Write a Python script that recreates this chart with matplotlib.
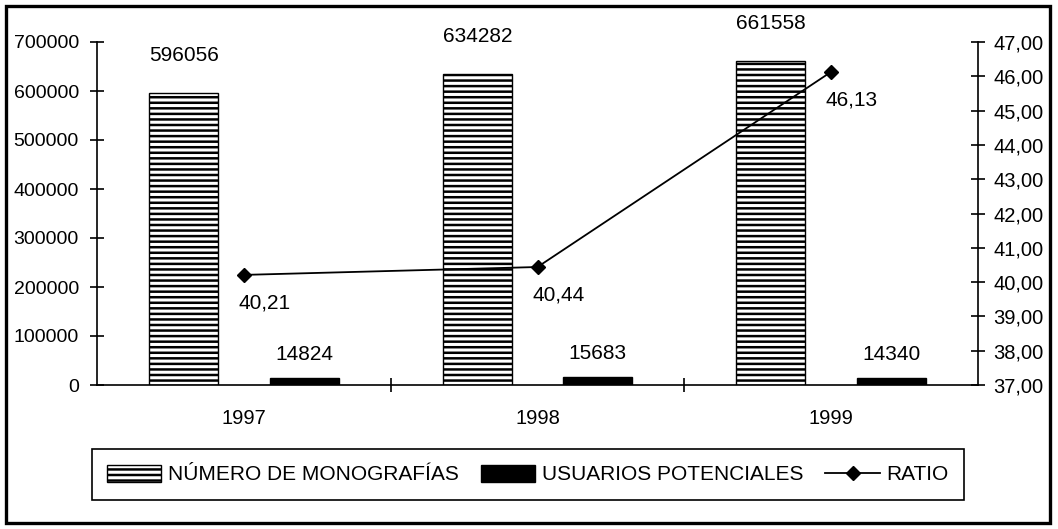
import matplotlib
matplotlib.use('Agg')
from matplotlib import pyplot as plt
from matplotlib.patches import Rectangle
from matplotlib.ticker import FuncFormatter, FixedLocator
import numpy as np

years = ['1997', '1998', '1999']
monografias = [596056, 634282, 661558]
usuarios = [14824, 15683, 14340]
ratio = [40.21, 40.44, 46.13]
ratio_labels = ['40,21', '40,44', '46,13']

plt.rcParams['font.family'] = ['Liberation Sans', 'DejaVu Sans']
plt.rcParams['hatch.linewidth'] = 1.8

fig = plt.figure(figsize=(10.58, 5.29), dpi=100)
ax = fig.add_axes([97 / 1058, 1 - 385 / 529, (978 - 97) / 1058, (385 - 42) / 529])
ax2 = ax.twinx()

x = np.arange(len(years))
w = 0.235
off = 0.205

b1 = ax.bar(x - off, monografias, w, color='white', edgecolor='black',
            hatch='---', linewidth=1, label='NÚMERO DE MONOGRAFÍAS')
b2 = ax.bar(x + off, usuarios, w, color='black', edgecolor='black',
            linewidth=1, label='USUARIOS POTENCIALES')
ln, = ax2.plot(x, ratio, color='black', lw=1.3, marker='D', markersize=7,
               label='RATIO')

ax.set_xlim(-0.5, 2.5)
ax.set_ylim(0, 700000)
ax2.set_ylim(37, 47)

# etiquetas de datos
for xi, v in zip(x, monografias):
    ax.annotate(str(v), (xi - off, v), xytext=(0, 27), textcoords='offset points',
                ha='center', va='center', fontsize=15)
for xi, v in zip(x, usuarios):
    ax.annotate(str(v), (xi + off, v), xytext=(0, 17), textcoords='offset points',
                ha='center', va='center', fontsize=15)
for xi, v, t in zip(x, ratio, ratio_labels):
    ax2.annotate(t, (xi, v), xytext=(15, -20), textcoords='offset points',
                 ha='center', va='center', fontsize=15)

# ejes
for a in (ax, ax2):
    a.spines['top'].set_visible(False)
ax.spines['right'].set_visible(False)
ax2.spines['left'].set_visible(False)
ax2.spines['bottom'].set_visible(False)
for s in ('left', 'bottom'):
    ax.spines[s].set_linewidth(1.2)
ax2.spines['right'].set_linewidth(1.2)

ax.set_yticks(np.arange(0, 700001, 100000))
ax.yaxis.set_major_formatter(FuncFormatter(lambda v, p: '%d' % v))
ax.tick_params(axis='y', direction='inout', length=10, width=1.2, labelsize=14, pad=8)

ax2.set_yticks(np.arange(37, 47.5, 1))
ax2.yaxis.set_major_formatter(FuncFormatter(lambda v, p: ('%.2f' % v).replace('.', ',')))
ax2.tick_params(axis='y', direction='inout', length=10, width=1.2, labelsize=14.5, pad=6)

ax.xaxis.set_major_locator(FixedLocator([0.5, 1.5]))
ax.xaxis.set_minor_locator(FixedLocator(x))
ax.set_xticklabels([], minor=False)
ax.set_xticklabels(years, minor=True)
ax.tick_params(axis='x', which='major', direction='inout', length=10, width=1.2)
ax.tick_params(axis='x', which='minor', length=0, labelsize=14.5, pad=17)

# leyenda
leg = fig.legend(handles=[b1, b2, ln], loc='center', bbox_to_anchor=(528 / 1058, 1 - 474.5 / 529),
                 ncol=3, frameon=True, fancybox=False, framealpha=1, edgecolor='black',
                 handlelength=2.6, handleheight=0.9, columnspacing=1.05, handletextpad=0.33,
                 borderpad=0.75, borderaxespad=0, prop={'size': 15})
leg.get_frame().set_linewidth(1.2)

# marco exterior
fig.patches.append(Rectangle((6 / 1058, 1 - 523 / 529), 1044 / 1058, 517 / 529,
                             transform=fig.transFigure, fill=False, edgecolor='black', lw=2.4))

fig.savefig('out.png', dpi=100)
